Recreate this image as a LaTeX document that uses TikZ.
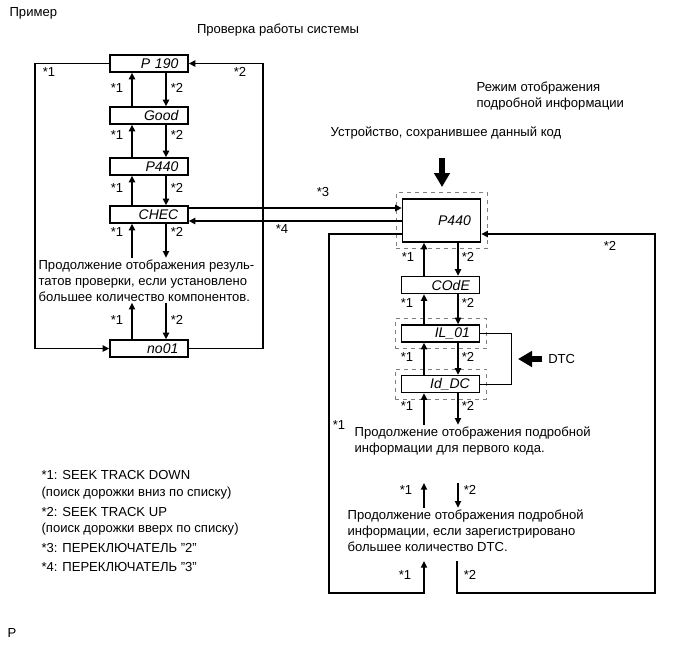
\documentclass[tikz,border=0pt]{standalone}
\usepackage{fontspec}
\setmainfont{Liberation Sans}
\usetikzlibrary{arrows.meta,calc,fit}

\tikzset{
  lcd/.style={draw, line width=0.9pt, minimum width=58.5pt, minimum height=12.75pt, text width=44pt, align=right, inner sep=0pt, font=\fontsize{10.5pt}{12pt}\selectfont\itshape},
  bigbox/.style={lcd, minimum height=32.25pt},
  dashbox/.style={draw=gray, dashed, line width=0.6pt, inner sep=4.5pt},
  arr/.style={line width=1.4pt, -{Triangle[length=5pt,width=4.5pt]}},
  fat/.style={line width=5pt, -{Triangle[length=10.5pt,width=11.5pt]}},
  star/.style={inner sep=0pt},
  txt/.style={align=left, inner sep=1pt, anchor=base west},
}

\begin{document}
\begin{tikzpicture}[x=0.75pt, y=-0.75pt, font=\fontsize{9.8pt}{12pt}\selectfont]
  \useasboundingbox (0,0) rectangle (691,660);

  \node[txt] (title) at (8,17) {Пример};
  \node[anchor=base] (check) at (278,34) {Проверка работы системы};

  % left column
  \node[lcd] (p190) at (149,63.5) {P 190};
  \node[lcd] (good) at (149,115.5) {Good};
  \node[lcd] (p440) at (149,166.5) {P440};
  \node[lcd] (chec) at (149,214.5) {CHEC};
  \node[lcd] (no01) at (149,348.5) {no01};
  \coordinate (lu) at (132,0);
  \coordinate (ld) at (166,0);

  \foreach \a/\b in {p190/good, good/p440, p440/chec} {
    \draw[arr] (\b.north -| lu) -- (\a.south -| lu);
    \draw[arr] (\a.south -| ld) -- (\b.north -| ld);
  }
  % base of a multi-line node is its last line
  \node[txt] (contL) at (37,301) {Продолжение отображения резуль-\\татов проверки, если установлено\\большее количество компонентов.};
  \draw[arr] (contL.north -| lu) -- (chec.south -| lu);
  \draw[arr] (chec.south -| ld) -- (contL.north -| ld);
  \draw[arr] (no01.north -| lu) -- (contL.south -| lu);
  \draw[arr] (contL.south -| ld) -- (no01.north -| ld);
  \foreach \y in {88,135,188,232,320} {
    \node[star] (la\y) at (117,\y) {*1};
    \node[star] (lb\y) at (177,\y) {*2};
  }

  \draw[arr] (p190.west) -- ++(-74,0) |- (no01.west);
  \draw[arr] (no01.east) -- ++(74,0) |- (p190.east);
  \node[star] (lo1) at (49,72) {*1};
  \node[star] (lo2) at (240,72) {*2};

  % right column
  \node[txt] (mode) at (475,107) {Режим отображения\\подробной информации};
  \node[txt] (dev) at (329,136) {Устройство, сохранившее данный код};
  \draw[fat] (442,158) -- (442,187);

  \node[bigbox] (p440b) at (441.5,220.5) {P440};
  \node[dashbox, fit=(p440b)] (p440f) {};
  \node[lcd] (code) at (440.5,285) {COdE};
  \node[lcd] (il) at (440.5,333.5) {IL\_01};
  \node[dashbox, fit=(il)] (ilf) {};
  \node[lcd] (id) at (440.5,384) {Id\_DC};
  \node[dashbox, fit=(id)] (idf) {};
  \coordinate (ru) at (424,0);
  \coordinate (rd) at (458,0);

  \foreach \a/\b in {p440b/code, code/il, il/id} {
    \draw[arr] (\b.north -| ru) -- (\a.south -| ru);
    \draw[arr] (\a.south -| rd) -- (\b.north -| rd);
  }
  \node[txt] (cont1) at (353,452) {Продолжение отображения подробной\\информации для первого кода.};
  \draw[arr] (cont1.north -| ru) -- (id.south -| ru);
  \draw[arr] (id.south -| rd) -- (cont1.north -| rd);

  \node[txt] (cont2) at (346,551) {Продолжение отображения подробной\\информации, если зарегистрировано\\большее количество DTC.};
  \coordinate (m1) at (424,483);
  \coordinate (m2) at (458,483);
  \draw[arr] (cont2.north -| ru) -- (m1);
  \draw[arr] (m2) -- (cont2.north -| rd);

  \foreach \y/\u/\v in {257/408/468, 303/407/468, 357/407/468, 406/407/468, 490/406/470, 575/405/470} {
    \node[star] (ra\y) at (\u,\y) {*1};
    \node[star] (rb\y) at (\v,\y) {*2};
  }

  % DTC bracket
  \draw[line width=0.6pt] (il.east) -| (511,384) -- (id.east);
  \node[anchor=west, inner sep=0pt] (dtc) at (548,359) {DTC};
  \draw[fat] (542,359) -- (518,359);

  % *3 / *4
  \coordinate (s3) at ($(chec.east)+(0,-6.5)$);
  \coordinate (s4) at ($(chec.east)+(0,6.5)$);
  \draw[arr] (s3) -- (s3 -| p440b.west);
  \draw[arr] (s4 -| p440b.west) -- (s4);
  \node[star] (n3) at (323,192) {*3};
  \node[star] (n4) at (282,229) {*4};

  % big loop
  \coordinate (b1) at (424,561);
  \coordinate (b2) at (457,561);
  \draw[arr] ($(p440b.west)+(0,13.5)$) -| (329,593) -| (b1);
  \draw[arr] (b2) |- (655,593) |- ($(p440b.east)+(0,13.5)$);
  \node[star] (ro1) at (339,425) {*1};
  \node[star] (ro2) at (610,246) {*2};

  % legend
  \node[txt] (k1) at (40,479) {*1: SEEK TRACK DOWN};
  \node[txt] (k1r) at (40,496) {(поиск дорожки вниз по списку)};
  \node[txt] (k2) at (40,516) {*2: SEEK TRACK UP};
  \node[txt] (k2r) at (40,532) {(поиск дорожки вверх по списку)};
  \node[txt] (k3) at (40,552) {*3: ПЕРЕКЛЮЧАТЕЛЬ "2"};
  \node[txt] (k4) at (40,571) {*4: ПЕРЕКЛЮЧАТЕЛЬ "3"};
  \node[txt] (pp) at (6,637) {P};
\end{tikzpicture}
\end{document}
